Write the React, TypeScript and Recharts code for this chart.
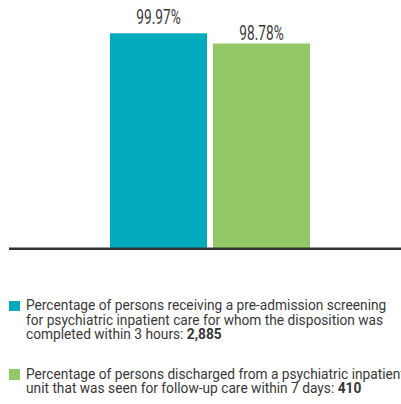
import React from "react";
import { BarChart, Bar, XAxis, YAxis, LabelList } from "recharts";

const categories = ["2023"];
const screeningValues = [99.97];
const followUpValues = [98.78];

const seriesNames = ["screening", "followUp"];
const seriesColors = ["#00aabd", "#92c966"];
const labelOffsets = [9, 4];

const legendLines = [
  [
    "Percentage of persons receiving a pre-admission screening",
    "for psychiatric inpatient care for whom the disposition was",
    "completed within 3 hours: ",
  ],
  [
    "Percentage of persons discharged from a psychiatric inpatient",
    "unit that was seen for follow-up care within 7 days: ",
  ],
];
const legendCounts = ["2,885", "410"];
const legendTops = [298.3, 366.6];

const data = categories.map((c, i) => ({
  name: c,
  screening: screeningValues[i],
  followUp: followUpValues[i],
}));

const font = "Roboto, sans-serif";
const squeeze = 0.915;

const makeLabel = (offset: number) => (props: any) => {
  const { x, y, width, value } = props;
  const cx = x + width / 2;
  return (
    <text
      x={cx}
      y={y - offset}
      textAnchor="middle"
      fontFamily={font}
      fontSize={19.5}
      fill="#383838"
      transform={`translate(${cx} 0) scale(0.7 1) translate(${-cx} 0)`}
    >
      {Number(value).toFixed(2) + "%"}
    </text>
  );
};

export default function App() {
  return (
    <div
      style={{
        position: "relative",
        width: 401,
        height: 404,
        overflow: "hidden",
        fontFamily: font,
        color: "#383838",
      }}
    >
      <style>{"body{margin:0}"}</style>
      <div style={{ position: "absolute", left: 8, top: 8 }}>
        <BarChart
          width={393}
          height={242}
          data={data}
          margin={{ top: 25, right: 0, bottom: 0, left: 1 }}
          barSize={97}
          barGap={6}
        >
          <XAxis
            dataKey="name"
            tick={false}
            tickLine={false}
            height={1}
            padding={{ left: 10, right: 0 }}
            axisLine={{ stroke: "#333", strokeWidth: 3 }}
          />
          <YAxis hide domain={[75, 100]} />
          {seriesNames.map((s, i) => (
            <Bar key={s} dataKey={s} fill={seriesColors[i]} isAnimationActive={false}>
              <LabelList dataKey={s} content={makeLabel(labelOffsets[i])} />
            </Bar>
          ))}
        </BarChart>
      </div>
      {legendLines.map((lines, i) => (
        <div
          key={i}
          style={{ position: "absolute", left: 8, top: legendTops[i], fontSize: 15, lineHeight: "14.6px" }}
        >
          <span
            style={{
              position: "absolute",
              left: 1,
              top: 2.5,
              width: 11,
              height: 10.5,
              background: seriesColors[i],
            }}
          />
          {lines.map((l, j) => (
            <div
              key={j}
              style={{
                marginLeft: 18,
                whiteSpace: "nowrap",
                transform: `scaleX(${squeeze})`,
                transformOrigin: "0 0",
              }}
            >
              {l}
              {j === lines.length - 1 && <b>{legendCounts[i]}</b>}
            </div>
          ))}
        </div>
      ))}
    </div>
  );
}
